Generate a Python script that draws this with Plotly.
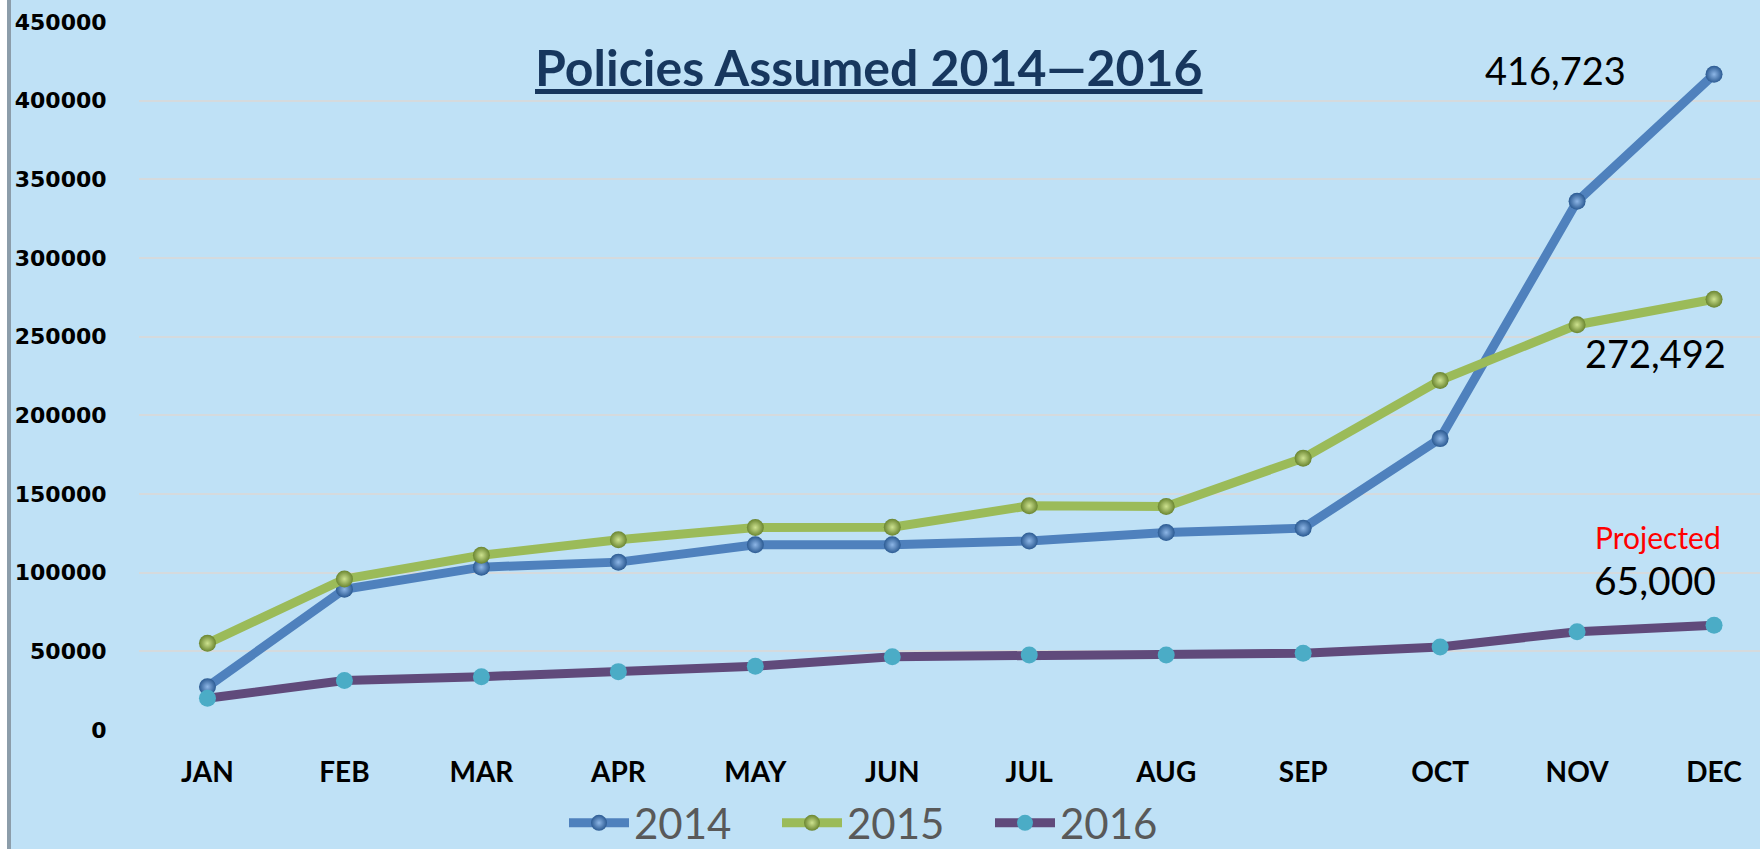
import plotly.graph_objects as go

months = ["JAN", "FEB", "MAR", "APR", "MAY", "JUN", "JUL", "AUG", "SEP", "OCT", "NOV", "DEC"]
y2014 = [27500, 89500, 103500, 106700, 117700, 117700, 120200, 125500, 128300, 185200, 336000, 416723]
y2015 = [55100, 96000, 111100, 120900, 128700, 128900, 142500, 142100, 172800, 222200, 257600, 273800]
y2016 = [20200, 31400, 33900, 37100, 40500, 46600, 47700, 47700, 48800, 52800, 62500, 66600]
y_ticks = [0, 50000, 100000, 150000, 200000, 250000, 300000, 350000, 400000, 450000]

W, H = 1760, 849
ML, MR, MT, MB = 139, 0, 22, 119
PW = W - ML - MR
PH = H - MT - MB
BG = "#BFE1F6"

fig = go.Figure()
fig.add_trace(go.Scatter(
    x=months, y=y2014, name="2014", mode="lines+markers",
    line=dict(color="#4F81BD", width=9),
    marker=dict(size=17, color="#2B5A92", line=dict(width=0),
                gradient=dict(type="radial", color="#8DB6E6")),
))
fig.add_trace(go.Scatter(
    x=months, y=y2015, name="2015", mode="lines+markers",
    line=dict(color="#9BBB59", width=9),
    marker=dict(size=17, color="#6A8530", line=dict(width=0),
                gradient=dict(type="radial", color="#CDE28F")),
))
fig.add_trace(go.Scatter(
    x=months, y=y2016, name="2016", mode="lines+markers",
    line=dict(color="#604A7B", width=9),
    marker=dict(size=17, color="#4BACC6", line=dict(width=0)),
))

def ypix(v):
    return MT + PH * (1 - v / 450000)

# Data labels anchored at the December points
fig.add_annotation(x=11, y=y2014[-1], text="416,723", showarrow=False,
                   xanchor="center", yanchor="middle", xshift=-159,
                   yshift=ypix(y2014[-1]) - 70,
                   font=dict(family="Lato", size=38, color="#000000"))
fig.add_annotation(x=11, y=y2015[-1], text="272,492", showarrow=False,
                   xanchor="center", yanchor="middle", xshift=-59,
                   yshift=ypix(y2015[-1]) - 353,
                   font=dict(family="Lato", size=38, color="#000000"))
fig.add_annotation(x=11, y=y2016[-1], text="65,000", showarrow=False,
                   xanchor="center", yanchor="middle", xshift=-59,
                   yshift=ypix(y2016[-1]) - 580,
                   font=dict(family="Lato", size=39, color="#000000"))
fig.add_annotation(x=11, y=y2016[-1], text="Projected", showarrow=False,
                   xanchor="center", yanchor="middle", xshift=-56,
                   yshift=ypix(y2016[-1]) - 537,
                   font=dict(family="Lato", size=30, color="#FF0000"))

# Title
fig.add_annotation(xref="paper", yref="paper", x=(868 - ML) / PW, y=(MT + PH - 67) / PH,
                   text="<b><u>Policies Assumed 2014\u20142016</u></b>", showarrow=False,
                   xanchor="center", yanchor="middle",
                   font=dict(family="Lato", size=50, color="#17375E"))

# left frame edge
fig.add_shape(type="rect", xref="paper", yref="paper",
              x0=-ML / PW, x1=(7 - ML) / PW, y0=-MB / PH, y1=(PH + MT) / PH,
              fillcolor="#FFFFFF", line=dict(width=0), layer="above")
fig.add_shape(type="rect", xref="paper", yref="paper",
              x0=(7 - ML) / PW, x1=(11 - ML) / PW, y0=-MB / PH, y1=(PH + MT) / PH,
              fillcolor="#8C9DAA", line=dict(width=0), layer="above")

x_right = (W - 207.6) / 136.95

fig.update_layout(
    width=W, height=H, autosize=False,
    margin=dict(l=ML, r=MR, t=MT, b=MB, pad=0, autoexpand=False),
    paper_bgcolor=BG, plot_bgcolor=BG,
    showlegend=True,
    legend=dict(orientation="h", x=(564 - ML) / PW, xanchor="left",
                y=(MT + PH - 823) / PH, yanchor="middle",
                font=dict(family="Lato", size=42, color="#595959"),
                bgcolor="rgba(0,0,0,0)", entrywidth=138, entrywidthmode="pixels",
                itemwidth=60, traceorder="normal"),
    xaxis=dict(type="category", range=[-0.5, x_right],
               showgrid=False, zeroline=False, showline=False,
               ticks="outside", ticklen=17, tickcolor="rgba(0,0,0,0)",
               tickfont=dict(family="Lato", size=28, color="#000000", weight="bold")),
    yaxis=dict(range=[0, 450000], tickvals=y_ticks, ticktext=[str(v) for v in y_ticks],
               showgrid=True, gridcolor="#D5DADD", gridwidth=2,
               zeroline=False, showline=False,
               ticks="outside", ticklen=27, tickcolor="rgba(0,0,0,0)",
               tickfont=dict(family="DejaVu Sans", size=22, color="#000000", weight="bold")),
)

fig.write_html("out.html",
               config={"responsive": False, "displayModeBar": False},
               post_script="document.body.style.margin='0';document.body.style.padding='0';document.body.style.overflow='hidden';")
